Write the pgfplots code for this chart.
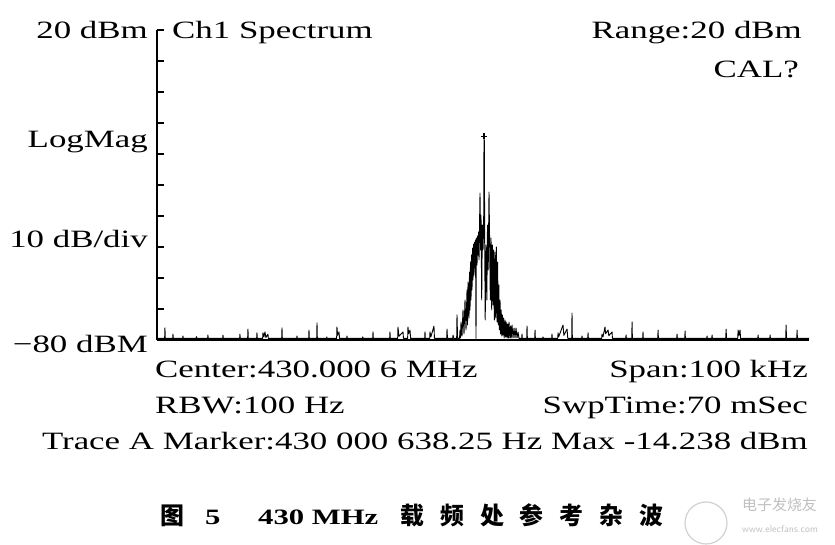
\documentclass[border=0pt]{standalone}
\usepackage{pgfplots}
\pgfplotsset{compat=1.18}
\usepackage{fontspec}
\setmainfont{Liberation Serif}[FakeStretch=1.4]
\newfontfamily\cjk{Noto Sans CJK SC}

\begin{document}
\begin{tikzpicture}[x=1bp,y=1bp,
  lbl/.style={inner sep=0pt, font=\fontsize{25}{30}\selectfont}]
\path[use as bounding box] (0,0) rectangle (835,545);
\begin{axis}[
  at={(157bp,205bp)}, anchor=south west,
  width=652bp, height=310bp, scale only axis,
  xmin=-50, xmax=50, ymin=-80, ymax=20,
  axis x line*=bottom, axis y line*=left,
  xtick=\empty,
  ytick={-80,-70,...,20}, yticklabel=\empty,
  tick align=inside, major tick length=7bp,
  axis line style={line width=2.4bp},
  every tick/.style={line width=2bp, black},
  clip=false,
]
% spectrum trace, span 100 kHz around 430.0006 MHz (x in kHz offset)
\addplot[black, line width=0.9bp, line join=round] coordinates {
(-50,-79.5)
(-48.83,-79.5)(-48.78,-76.1)(-48.73,-79.5)
(-47.6,-79.5)(-47.55,-78.1)(-47.5,-79.5)
(-46.07,-79.5)(-46.02,-78.7)(-45.97,-79.5)
(-44.0,-79.5)(-43.95,-78.9)(-43.9,-79.5)
(-42.24,-79.5)(-42.19,-78.4)(-42.14,-79.5)
(-39.93,-79.5)(-39.88,-78.4)(-39.83,-79.5)
(-37.33,-79.5)(-37.28,-78.1)(-37.23,-79.5)
(-36.1,-79.5)(-36.05,-76.5)(-36.0,-79.5)
(-34.72,-79.5)(-34.67,-77.7)(-34.62,-79.5)
(-33.8,-79.5)(-33.75,-77.7)(-33.6,-79.0)(-33.44,-77.4)(-33.3,-79.2)(-32.98,-78.1)(-32.93,-79.5)
(-30.88,-79.5)(-30.83,-76.1)(-30.78,-79.5)
(-28.58,-79.5)(-28.53,-78.7)(-28.48,-79.5)
(-26.74,-79.5)(-26.69,-76.8)(-26.64,-79.5)
(-25.51,-79.5)(-25.46,-74.5)(-25.41,-79.5)
(-24.0,-79.5)(-23.95,-79.0)(-23.9,-79.5)
(-22.45,-79.5)(-22.40,-75.8)(-22.3,-78.5)(-22.09,-77.4)(-22.0,-79.5)
(-20.91,-79.5)(-20.86,-78.7)(-20.81,-79.5)
(-18.5,-79.5)(-18.45,-79.0)(-18.4,-79.5)
(-16.92,-79.5)(-16.87,-77.4)(-16.82,-79.5)
(-14.32,-79.5)(-14.27,-77.4)(-14.22,-79.5)
(-13.09,-79.5)(-13.04,-75.8)(-12.9,-78.8)(-12.27,-77.4)(-12.2,-79.5)
(-11.56,-79.5)(-11.51,-75.8)(-11.4,-78.0)(-11.20,-76.8)(-11.1,-79.5)
(-8.95,-79.5)(-8.90,-77.4)(-8.85,-79.5)
(-8.18,-79.5)(-8.13,-77.4)(-8.0,-79.0)(-7.52,-75.5)(-7.45,-79.5)
(-5.57,-79.5)(-5.52,-76.5)(-5.45,-79.5)
(-4.65,-79.5)(-4.60,-78.4)(-4.5,-79.5)
(-4.04,-79.5)(-3.99,-71.9)(-3.9,-79.5)
(-3.60,-79.5)
(-3.528,-76.77)(-3.452,-79.35)(-3.375,-74.19)(-3.221,-78.71)(-3.068,-70.32)(-2.915,-78.06)
(-2.761,-67.10)(-2.608,-76.77)(-2.454,-63.87)(-2.378,-75.16)(-2.301,-61.29)(-2.148,-72.90)
(-2.071,-58.06)(-1.994,-70.32)(-1.918,-54.84)(-1.841,-67.10)(-1.764,-52.58)(-1.687,-63.87)
(-1.611,-50.32)(-1.534,-60.64)(-1.457,-49.03)(-1.381,-59.03)(-1.304,-48.39)(-1.227,-56.77)
(-1.151,-47.74)(-1.074,-79.5)(-1.028,-47.10)(-0.920,-55.81)(-0.844,-46.45)(-0.767,-52.58)
(-0.690,-45.16)(-0.614,-54.19)(-0.460,-32.58)(-0.384,-50.97)(-0.307,-39.68)(-0.199,-67.10)
(-0.107,-42.90)(0.0,-50.97)(0.10,-42.9)(0.153,-14.24)(0.19,-38.0)(0.215,-15.5)(0.245,-44.52)
(0.337,-73.55)(0.460,-49.35)(0.583,-67.10)(0.690,-42.90)(0.798,-57.42)(0.920,-32.26)
(1.012,-47.74)(1.120,-67.10)(1.227,-47.10)(1.335,-70.32)(1.427,-49.35)(1.534,-68.71)
(1.626,-50.97)(1.733,-73.55)(1.841,-51.61)(1.948,-72.90)(2.056,-50.00)(2.148,-74.19)
(2.240,-54.84)(2.332,-75.16)(2.424,-62.26)(2.516,-76.77)(2.608,-67.10)(2.700,-78.06)
(2.792,-70.32)(2.884,-78.71)(2.976,-71.94)(3.068,-78.39)(3.160,-72.90)(3.252,-79.35)
(3.375,-73.55)(3.467,-79.03)(3.559,-74.19)(3.681,-79.35)(3.773,-74.84)(3.881,-79.35)
(3.988,-74.19)(4.111,-79.35)(4.218,-75.48)(4.326,-79.35)(4.449,-75.16)(4.602,-79.35)
(4.755,-76.13)(4.909,-79.35)(5.062,-76.13)(5.215,-79.35)(5.369,-77.42)(5.522,-79.5)
(5.93,-79.5)(5.98,-78.1)(6.03,-79.5)
(6.70,-79.5)(6.75,-75.5)(6.80,-79.5)
(7.93,-79.5)(7.98,-76.8)(8.03,-79.5)
(9.15,-79.5)(9.20,-79.0)(9.25,-79.5)
(10.53,-79.5)(10.58,-78.1)(10.63,-79.5)
(11.46,-79.5)(11.51,-77.7)(11.6,-79.0)(12.27,-75.2)(12.4,-78.5)(12.89,-76.5)(13.0,-79.5)
(13.6,-79.5)(13.65,-71.3)(13.7,-79.5)
(15.14,-79.5)(15.19,-78.7)(15.24,-79.5)
(16.06,-79.5)(16.11,-77.7)(16.16,-79.5)
(18.2,-79.5)(18.25,-78.1)(18.4,-79.0)(18.71,-75.8)(18.8,-78.0)(19.18,-76.8)(19.3,-78.6)(19.79,-77.4)(19.85,-79.5)
(21.89,-79.5)(21.94,-78.4)(21.99,-79.5)
(22.81,-79.5)(22.86,-74.2)(22.91,-79.5)
(24.49,-79.5)(24.54,-77.4)(24.59,-79.5)
(26.80,-79.5)(26.85,-76.8)(26.9,-79.5)
(29.71,-79.5)(29.76,-78.1)(29.81,-79.5)
(30.94,-79.5)(30.99,-77.1)(31.04,-79.5)
(34.31,-79.5)(34.36,-78.7)(34.41,-79.5)
(35.08,-79.5)(35.13,-78.4)(35.18,-79.5)
(37.23,-79.5)(37.28,-76.5)(37.35,-79.5)
(39.07,-79.5)(39.12,-76.8)(39.25,-78.5)(39.42,-76.8)(39.5,-79.5)
(42.14,-79.5)(42.19,-78.4)(42.24,-79.5)
(43.98,-79.5)(44.03,-78.4)(44.08,-79.5)
(46.43,-79.5)(46.48,-75.2)(46.55,-79.5)
(48.12,-79.5)(48.17,-76.8)(48.22,-79.5)
(50,-79.5)
};
% marker at the maximum
\addplot[only marks, black, mark=+, mark size=3bp, line width=1.2bp] coordinates {(0.153,-14.24)};
\end{axis}

% left scale labels
\node[lbl, anchor=base east] at (148,506) {20 dBm};
\node[lbl, anchor=base east] at (148,397) {LogMag};
\node[lbl, anchor=base east] at (148,297) {10 dB/div};
\node[lbl, anchor=base east] at (148,192) {−80 dBM};
% header
\node[lbl, anchor=base west] at (172,506) {Ch1 Spectrum};
\node[lbl, anchor=base east] at (802,506) {Range:20 dBm};
\node[lbl, anchor=base east] at (799,467) {CAL?};
% footer
\node[lbl, anchor=base west] at (155,167) {Center:430.000 6 MHz};
\node[lbl, anchor=base east] at (808,167) {Span:100 kHz};
\node[lbl, anchor=base west] at (155,131) {RBW:100 Hz};
\node[lbl, anchor=base east] at (808,131) {SwpTime:70 mSec};
\node[lbl, anchor=base east] at (808,95) {Trace A Marker:430 000 638.25 Hz Max -14.238 dBm};

% caption
\node[inner sep=0pt, anchor=base west, font=\fontsize{24}{28}\selectfont\cjk\bfseries] at (160,20) {图};
\node[inner sep=0pt, anchor=base west, font=\fontsize{22}{26}\selectfont\bfseries] at (205,20) {5};
\node[inner sep=0pt, anchor=base west, font=\fontsize{22}{26}\selectfont\bfseries] at (258,20) {430 MHz};
\node[inner sep=0pt, anchor=base west, font=\fontsize{24}{28}\selectfont\cjk\bfseries] at (400,20)
  {载\kern16bp 频\kern16bp 处\kern16bp 参\kern16bp 考\kern16bp 杂\kern16bp 波};

% watermark
\draw[black!18, line width=1.2bp] (706,22) circle (21);
\node[inner sep=0pt, anchor=base west, text=black!25, font=\fontsize{15}{18}\selectfont\cjk] at (742,34) {电子发烧友};
\node[inner sep=0pt, anchor=base west, text=black!25, font=\fontsize{10}{12}\selectfont\sffamily] at (742,12) {www.elecfans.com};
\end{tikzpicture}
\end{document}
